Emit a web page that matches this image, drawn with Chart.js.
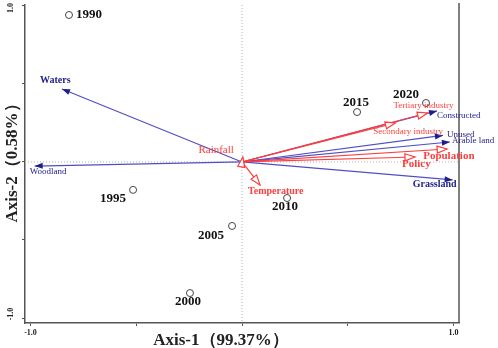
<!DOCTYPE html>
<html>
<head>
<meta charset="utf-8">
<script src="https://cdn.jsdelivr.net/npm/chart.js@4"></script>
<style>
  body { margin: 0; background: #fff; }
</style>
</head>
<body>
<canvas id="chart" width="498" height="348"></canvas>
<script>
// sample scores (years)
const years = ['1990', '1995', '2000', '2005', '2010', '2015', '2020'];
const yearX = [-0.818, -0.515, -0.246, -0.047, 0.213, 0.544, 0.870];
const yearY = [0.942, -0.179, -0.840, -0.410, -0.231, 0.320, 0.378];

// land use types (blue arrows)
const landNames = ['Waters', 'Woodland', 'Constructed', 'Unused', 'Arable land', 'Grassland'];
const landX = [-0.851, -0.980, 0.922, 0.950, 0.983, 0.996];
const landY = [0.468, -0.026, 0.327, 0.170, 0.128, -0.115];

// driving factors (red arrows)
const factorNames = ['Tertiary industry', 'Secondary industry', 'Population', 'Policy', 'Rainfall', 'Temperature'];
const factorX = [0.877, 0.725, 0.970, 0.818, 0.004, 0.085];
const factorY = [0.314, 0.250, 0.083, 0.032, 0.032, -0.147];

const axisTicks = [-1, -0.5, 0, 0.5, 1];
const xTitle = 'Axis-1（99.37%）';
const yTitle = 'Axis-2（0.58%）';

const SERIF = '"Liberation Serif", "Times New Roman", serif';
const BLUE_LINE = '#4f4fc4';
const BLUE_HEAD = '#1e1e8e';
const BLUE_TEXT = '#23238c';
const RED = '#ff3d3d';

// label placement relative to arrow tip / point (pixels)
const labelStyle = {
  'Waters': { dx: -22, dy: -9, align: 'left', font: 'bold 10px' },
  'Woodland': { dx: -5, dy: 6, align: 'left', font: '9px' },
  'Constructed': { dx: 0, dy: 5, align: 'left', font: '9px' },
  'Unused': { dx: 4, dy: -1, align: 'left', font: '9px' },
  'Arable land': { dx: 2, dy: -1, align: 'left', font: '9px' },
  'Grassland': { dx: 4, dy: 5, align: 'right', font: 'bold 10px' },
  'Tertiary industry': { dx: -34, dy: -7, align: 'left', font: '9px' },
  'Secondary industry': { dx: -22, dy: 9, align: 'left', font: '9px' },
  'Population': { dx: -24, dy: 7, align: 'left', font: 'bold 11px' },
  'Policy': { dx: -13, dy: 7, align: 'left', font: 'bold 11px' },
  'Rainfall': { dx: -9, dy: -7, align: 'right', font: '11px' },
  'Temperature': { dx: -12, dy: 7, align: 'left', font: 'bold 10px' }
};
const yearOffset = {
  '1990': [7, 0], '1995': [-33, 9], '2000': [-15, 9], '2005': [-34, 10],
  '2010': [-15, 9], '2015': [-14, -9], '2020': [-33, -8]
};

function shaft(x, y, color) {
  return {
    type: 'line',
    data: [{ x: 0, y: 0 }, { x: x, y: y }],
    borderColor: color,
    borderWidth: 1.2,
    pointRadius: 0,
    showLine: true,
    fill: false
  };
}

const datasets = [{
  label: 'Years',
  data: years.map((y, i) => ({ x: yearX[i], y: yearY[i] })),
  pointRadius: 3.5,
  pointBackgroundColor: 'rgba(255,255,255,0)',
  pointBorderColor: '#444',
  pointBorderWidth: 1,
  showLine: false
}];
factorNames.forEach((n, i) => datasets.push(shaft(factorX[i], factorY[i], RED)));
landNames.forEach((n, i) => datasets.push(shaft(landX[i], landY[i], BLUE_LINE)));

function head(ctx, x0, y0, x1, y1, len, hw, fill, stroke) {
  const a = Math.atan2(y1 - y0, x1 - x0);
  const bx = x1 - len * Math.cos(a), by = y1 - len * Math.sin(a);
  const px = -Math.sin(a) * hw, py = Math.cos(a) * hw;
  ctx.beginPath();
  ctx.moveTo(x1, y1);
  ctx.lineTo(bx + px, by + py);
  ctx.lineTo(bx - px, by - py);
  ctx.closePath();
  ctx.fillStyle = fill;
  ctx.fill();
  if (stroke) {
    ctx.strokeStyle = stroke;
    ctx.lineWidth = 1.2;
    ctx.stroke();
  }
}

const biplotPlugin = {
  id: 'biplot',
  beforeDatasetsDraw(chart) {
    const { ctx, chartArea: a, scales: { x, y } } = chart;
    ctx.save();
    ctx.strokeStyle = '#b0b0b0';
    ctx.lineWidth = 1;
    ctx.setLineDash([1, 2]);
    ctx.beginPath();
    ctx.moveTo(x.getPixelForValue(0), a.top);
    ctx.lineTo(x.getPixelForValue(0), a.bottom);
    ctx.moveTo(a.left, y.getPixelForValue(0));
    ctx.lineTo(a.right, y.getPixelForValue(0));
    ctx.stroke();
    ctx.restore();
  },
  afterDatasetsDraw(chart) {
    const { ctx, chartArea: a, scales: { x, y } } = chart;
    const ox = x.getPixelForValue(0), oy = y.getPixelForValue(0);
    ctx.save();

    // right frame line
    ctx.strokeStyle = '#555';
    ctx.lineWidth = 1.5;
    ctx.beginPath();
    ctx.moveTo(a.right, a.top - 2);
    ctx.lineTo(a.right, a.bottom);
    ctx.stroke();

    landNames.forEach((n, i) => {
      head(ctx, ox, oy, x.getPixelForValue(landX[i]), y.getPixelForValue(landY[i]), 8, 3, BLUE_HEAD);
    });
    factorNames.forEach((n, i) => {
      head(ctx, ox, oy, x.getPixelForValue(factorX[i]), y.getPixelForValue(factorY[i]), 10, 3.5, '#fff', RED);
    });

    ctx.textBaseline = 'middle';
    const label = (name, px, py, color) => {
      const s = labelStyle[name];
      ctx.font = s.font + ' ' + SERIF;
      ctx.fillStyle = color;
      ctx.textAlign = s.align;
      ctx.fillText(name, px + s.dx, py + s.dy);
    };
    landNames.forEach((n, i) => label(n, x.getPixelForValue(landX[i]), y.getPixelForValue(landY[i]), BLUE_TEXT));
    factorNames.forEach((n, i) => label(n, x.getPixelForValue(factorX[i]), y.getPixelForValue(factorY[i]), RED));

    ctx.font = 'bold 13px ' + SERIF;
    ctx.fillStyle = '#111';
    ctx.textAlign = 'left';
    years.forEach((yr, i) => {
      const o = yearOffset[yr];
      ctx.fillText(yr, x.getPixelForValue(yearX[i]) + o[0], y.getPixelForValue(yearY[i]) + o[1]);
    });

    // axis titles
    ctx.fillStyle = '#222';
    ctx.textAlign = 'center';
    ctx.font = 'bold 17px ' + SERIF;
    ctx.fillText(xTitle, 221, 341);
    ctx.save();
    ctx.translate(13, 159);
    ctx.rotate(-Math.PI / 2);
    ctx.fillText(yTitle, 0, 0);
    ctx.restore();

    // rotated y tick labels
    ctx.font = 'bold 8px ' + SERIF;
    [1, -1].forEach(v => {
      ctx.save();
      ctx.translate(11, v > 0 ? y.getPixelForValue(v) + 2 : y.getPixelForValue(v) - 4);
      ctx.rotate(-Math.PI / 2);
      ctx.fillText(v.toFixed(1), 0, 0);
      ctx.restore();
    });
    ctx.restore();
  }
};

new Chart(document.getElementById('chart'), {
  type: 'scatter',
  data: { datasets: datasets },
  options: {
    responsive: false,
    animation: false,
    layout: { padding: { top: 5, right: 39, left: 0, bottom: 0 } },
    plugins: { legend: { display: false }, tooltip: { enabled: false } },
    scales: {
      x: {
        type: 'linear',
        min: -1.026,
        max: 1.026,
        afterBuildTicks: s => { s.ticks = axisTicks.map(v => ({ value: v })); },
        afterFit: s => { s.height = 25; },
        grid: { display: true, drawOnChartArea: false, drawTicks: true, tickLength: 3, color: '#555' },
        border: { display: true, color: '#555', width: 1.5 },
        ticks: {
          autoSkip: false,
          maxRotation: 0,
          padding: 2,
          color: '#222',
          font: { family: SERIF, size: 8, weight: 'bold' },
          callback: v => (Math.abs(v) === 1 ? v.toFixed(1) : '')
        }
      },
      y: {
        type: 'linear',
        min: -1.032,
        max: 1.006,
        afterBuildTicks: s => { s.ticks = axisTicks.map(v => ({ value: v })); },
        afterFit: s => { s.width = 25; },
        grid: { display: true, drawOnChartArea: false, drawTicks: true, tickLength: 3, color: '#555' },
        border: { display: true, color: '#555', width: 1.5 },
        ticks: { display: false }
      }
    }
  },
  plugins: [biplotPlugin]
});
</script>
</body>
</html>
